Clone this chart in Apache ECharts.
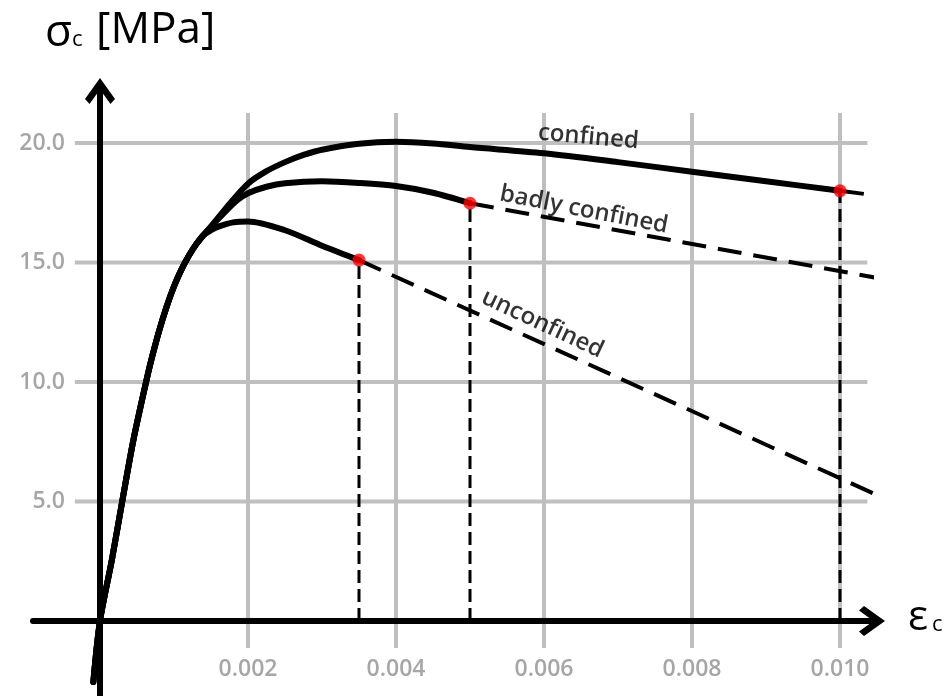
<!DOCTYPE html>
<html><head><meta charset="utf-8">
<script src="https://cdn.jsdelivr.net/npm/echarts@6/dist/echarts.min.js"></script>
<style>html,body{margin:0;padding:0;background:#fff}#c{width:948px;height:696px}</style>
</head><body><div id="c"></div>
<script>
// ---- data ----
const xTicks = [0.002, 0.004, 0.006, 0.008, 0.010];
const yTicks = [5, 10, 15, 20];

// shared ascending branch
const riseX = [-0.00009, 0, 0.00016, 0.0003, 0.00045, 0.00063, 0.0007, 0.0008, 0.0009, 0.001, 0.0011, 0.0012, 0.0013, 0.0014];
const riseY = [-2.55, 0, 2.55, 5.0, 7.55, 10.1, 11.0, 12.15, 13.15, 14.0, 14.7, 15.28, 15.76, 16.15];

const confinedX = [0.0015, 0.00175, 0.002, 0.00225, 0.0025, 0.00275, 0.003, 0.0035, 0.004, 0.0045, 0.005, 0.006, 0.007, 0.008, 0.009, 0.010];
const confinedY = [16.5, 17.45, 18.3, 18.82, 19.2, 19.5, 19.72, 19.97, 20.05, 19.98, 19.83, 19.57, 19.2, 18.8, 18.4, 18.0];

const badlyX = [0.0015, 0.0017, 0.00185, 0.002, 0.00225, 0.0025, 0.003, 0.0035, 0.004, 0.0045, 0.005];
const badlyY = [16.5, 17.15, 17.6, 17.9, 18.17, 18.32, 18.4, 18.33, 18.2, 17.92, 17.48];

const unconfinedX = [0.0015, 0.0016, 0.0018, 0.002, 0.0025, 0.003, 0.0035];
const unconfinedY = [16.35, 16.5, 16.68, 16.72, 16.35, 15.7, 15.1];

// ultimate points (red dots) and dashed extensions
const ultimateX = [0.0035, 0.005, 0.010];
const ultimateY = [15.1, 17.48, 18.0];
const extEndX = [0.01065, 0.01065, 0.01065];
const extEndY = [5.06, 14.27, 17.74];

const curveNames = ['unconfined', 'badly confined', 'confined'];
const labelX = [0.00598, 0.00654, 0.0066];
const labelY = [12.43, 17.2, 20.25];
const labelRot = [-25, -11, -5];

// ---- build ----
const FONT = 'Open Sans';
const zip = (xs, ys) => xs.map((x, i) => [x, ys[i]]);
const GX0 = -0.00034, GX1 = 0.01037, GY0 = -1.13, GY1 = 21.26;
const series = [];
xTicks.forEach(t => series.push({type:'line', data:[[t, GY0],[t, GY1]], symbol:'none', silent:true, z:1,
  lineStyle:{color:'#bfbfbf', width:4}, clip:false}));
yTicks.forEach(t => series.push({type:'line', data:[[GX0, t],[GX1, t]], symbol:'none', silent:true, z:1,
  lineStyle:{color:'#bfbfbf', width:4}, clip:false}));

ultimateX.forEach((x, i) => {
  series.push({type:'line', data:[[x, 0],[x, ultimateY[i]]], symbol:'none', z:3, silent:true,
    lineStyle:{color:'#000', width:3, type:[13, 6]}});
  series.push({type:'line', data:[[x, ultimateY[i]],[extEndX[i], extEndY[i]]], symbol:'none', z:3, silent:true, clip:false,
    lineStyle:{color:'#000', width:4, type:[24, 12]}});
});

const curveSets = [[unconfinedX, unconfinedY], [badlyX, badlyY], [confinedX, confinedY]];
curveSets.forEach(([xs, ys], i) => {
  const d = zip(riseX, riseY).concat(zip(xs, ys)).concat([[ultimateX[i], ultimateY[i]]].filter(p => p[0] > xs[xs.length-1]));
  series.push({type:'line', name:curveNames[i], data:d, symbol:'none', smooth:0.3, z:4, clip:false,
    lineStyle:{color:'#000', width:6, cap:'round', join:'round'}});
});

series.push({type:'scatter', data:zip(ultimateX, ultimateY), symbolSize:13, z:6,
  itemStyle:{color:'#ff0000'}});

series.push({type:'scatter', z:7, symbolSize:1, itemStyle:{color:'transparent'},
  data: labelX.map((x, i) => ({value:[x, labelY[i]], name:curveNames[i],
    label:{show:true, position:'inside', rotate:labelRot[i], formatter:curveNames[i],
      color:'#000', fontSize:24, fontWeight:600, fontFamily:FONT}}))});

const chart = echarts.init(document.getElementById('c'), null, {renderer:'canvas'});
const arrow = 'path://M15 0 L30 21 L25.5 26 L15 11.5 L4.5 26 L0 21 Z';
chart.setOption({
  animation:false,
  backgroundColor:'#fff',
  grid:{left:33, right:76, top:91, bottom:0, containLabel:false, outerBoundsMode:'none'},
  xAxis:{type:'value', min:-0.0009054, max:0.0104324, z:2,
    axisLine:{onZero:true, symbol:['none', arrow], symbolSize:[30, 28],
      lineStyle:{color:'#000', width:6, cap:'round'}},
    axisTick:{show:false}, splitLine:{show:false},
    axisLabel:{customValues:xTicks, formatter:v => v.toFixed(3), margin:-38, hideOverlap:false,
      color:'#a6a6a6', fontSize:23, fontWeight:600, fontFamily:FONT}},
  yAxis:{type:'value', min:-3.138, max:22.176, z:2,
    axisLine:{onZero:true, symbol:['none', arrow], symbolSize:[30, 28],
      lineStyle:{color:'#000', width:6}},
    axisTick:{show:false}, splitLine:{show:false},
    axisLabel:{customValues:yTicks, formatter:v => v.toFixed(1), margin:-32, hideOverlap:false,
      color:'#a6a6a6', fontSize:23, fontWeight:600, fontFamily:FONT}},
  graphic:[
    {type:'text', left:45, top:11, style:{text:'σ', fontSize:44, fontFamily:FONT, fill:'#000'}},
    {type:'text', left:72, top:29, style:{text:'c', fontSize:22, fontFamily:FONT, fill:'#000'}},
    {type:'text', left:96, top:8, style:{text:'[MPa]', fontSize:44, fontFamily:FONT, fill:'#000'}},
    {type:'text', left:908, top:597, style:{text:'ε', fontSize:42, fontFamily:FONT, fill:'#000'}},
    {type:'text', left:932, top:614, style:{text:'c', fontSize:22, fontFamily:FONT, fill:'#000'}}
  ],
  series:series
});
</script></body></html>
